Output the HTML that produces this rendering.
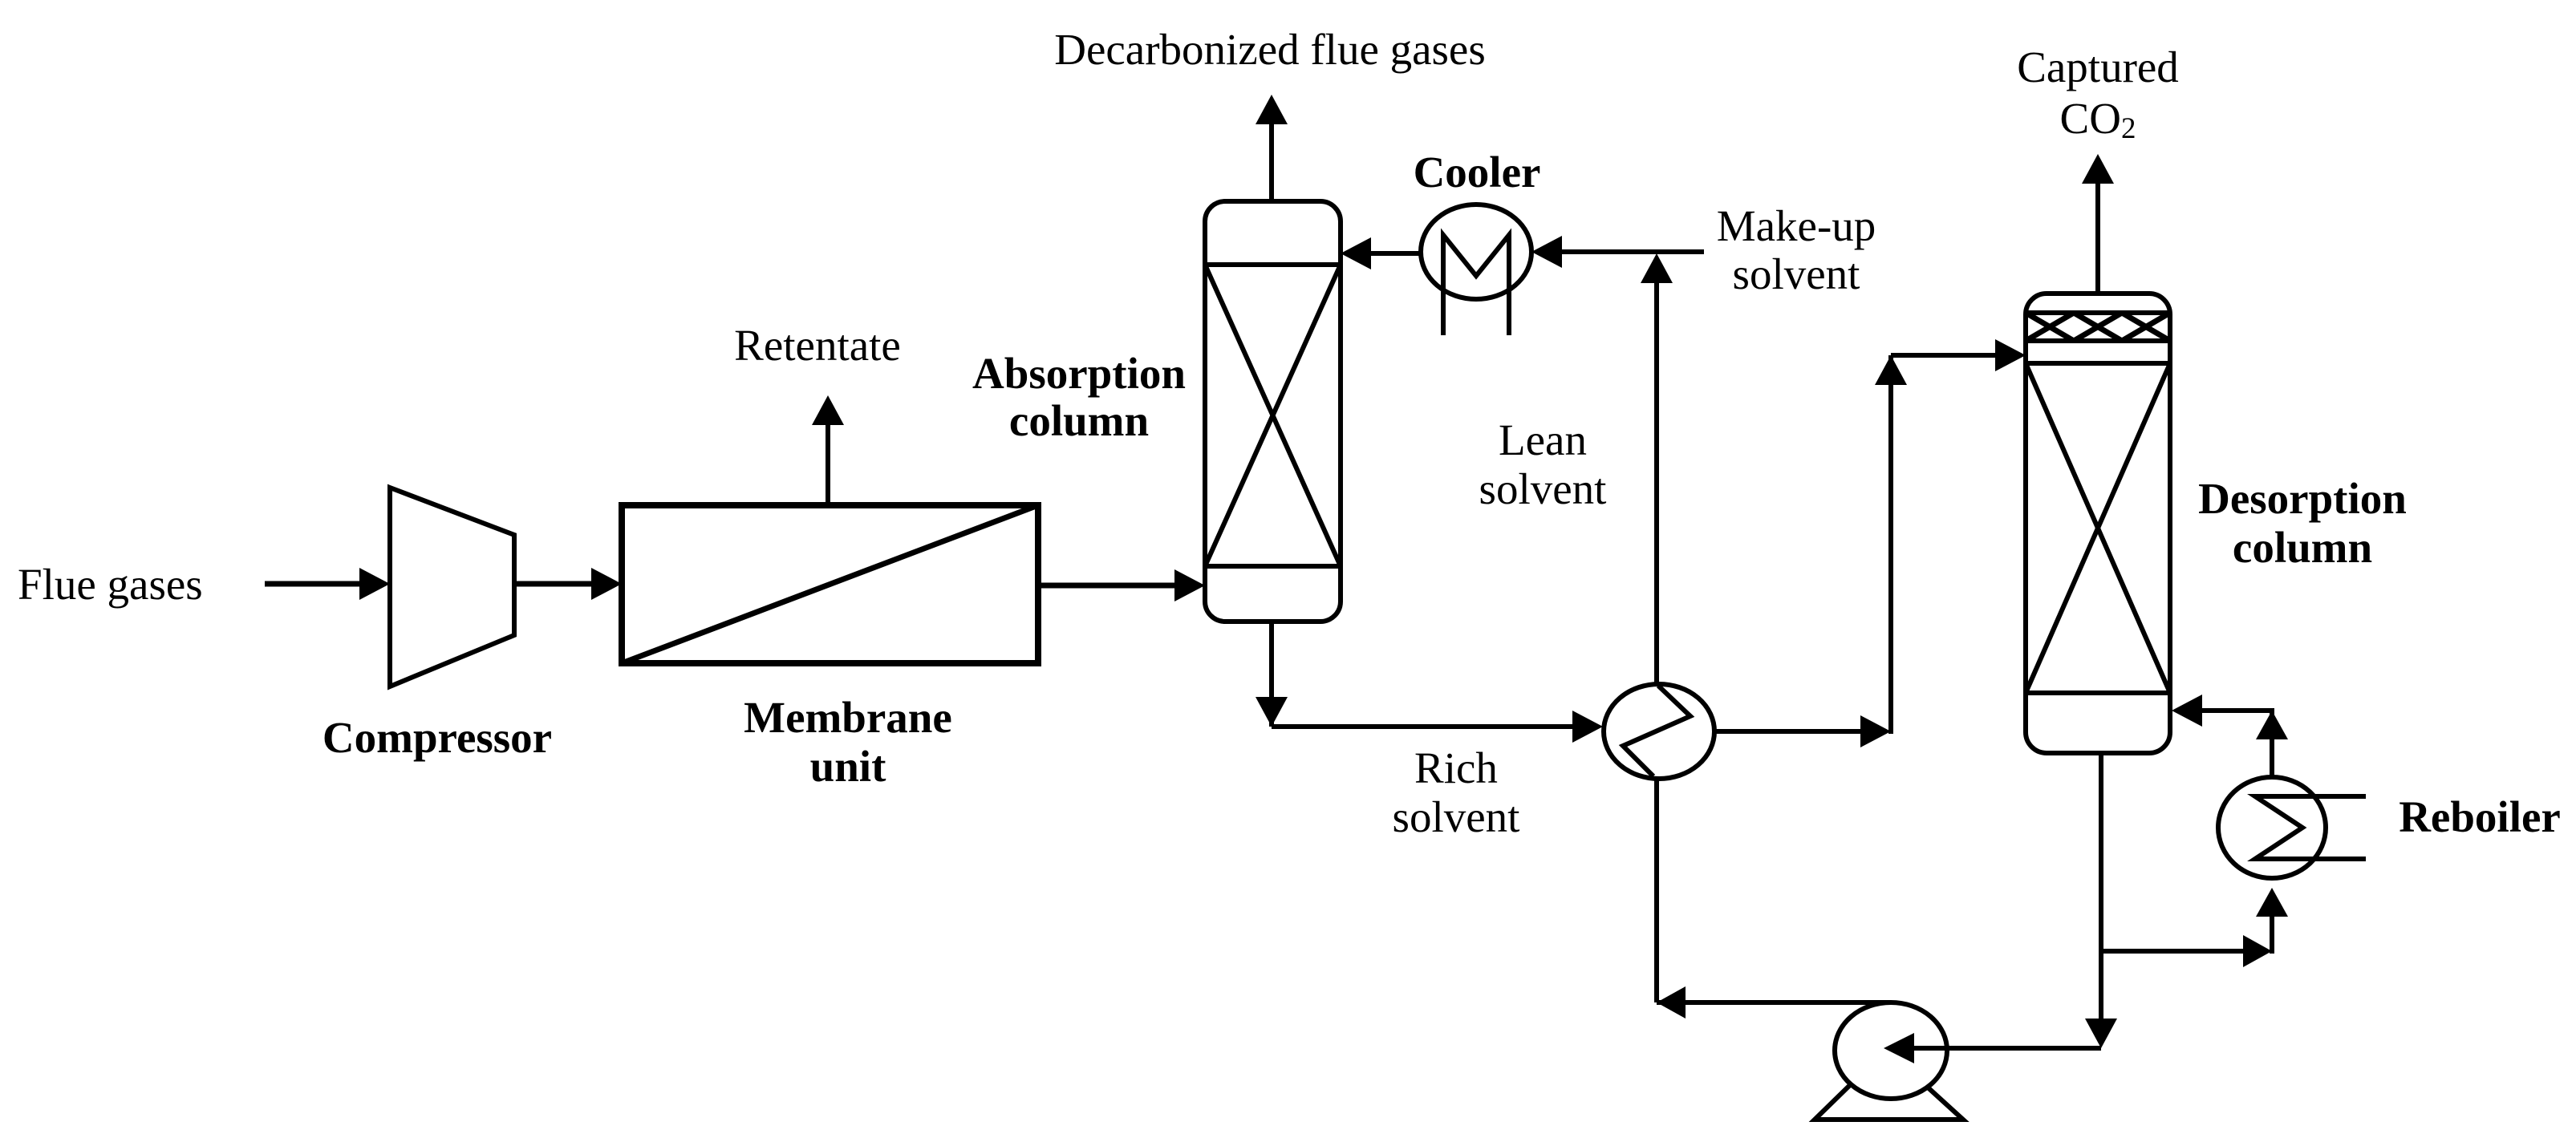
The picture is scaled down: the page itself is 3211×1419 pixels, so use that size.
<!DOCTYPE html>
<html><head><meta charset="utf-8"><style>
html,body{margin:0;padding:0;background:#fff;}
svg{display:block;}
text{font-family:"Liberation Serif",serif;font-size:55px;fill:#000;}
.b{font-weight:bold;}
</style></head><body>
<svg width="3211" height="1419" viewBox="0 0 3211 1419" xmlns="http://www.w3.org/2000/svg">
<g fill="none" stroke="#000" stroke-width="6" stroke-linejoin="miter">
<line x1="330" y1="728" x2="470" y2="728" stroke-width="7"/>
<polygon points="486,608 641,667 641,792 486,856"/>
<line x1="641" y1="728" x2="760" y2="728" stroke-width="7"/>
<rect x="775" y="630" width="519" height="197" stroke-width="8"/>
<line x1="775" y1="827" x2="1294" y2="630" stroke-width="7"/>
<line x1="1032" y1="630" x2="1032" y2="510"/>
<line x1="1294" y1="730" x2="1490" y2="730" stroke-width="7"/>
<rect x="1502" y="251" width="169" height="524" rx="25" ry="25"/>
<line x1="1502" y1="330" x2="1671" y2="330"/>
<line x1="1502" y1="706" x2="1671" y2="706"/>
<line x1="1502" y1="330" x2="1671" y2="706"/>
<line x1="1671" y1="330" x2="1502" y2="706"/>
<line x1="1585" y1="251" x2="1585" y2="135"/>
<line x1="1585" y1="775" x2="1585" y2="906"/>
<line x1="1585" y1="906" x2="1985" y2="906"/>
<ellipse cx="1840" cy="314" rx="69" ry="59"/>
<path d="M1799,418 L1799,293 L1840,344 L1881,293 L1881,418"/>
<line x1="1771" y1="316" x2="1690" y2="316"/>
<line x1="2124" y1="314" x2="1925" y2="314"/>
<line x1="2065" y1="852" x2="2065" y2="330"/>
<ellipse cx="2068" cy="912" rx="69" ry="59"/>
<path d="M2067,855 L2107,893 L2023,930 L2061,968"/>
<line x1="2137" y1="912" x2="2345" y2="912"/>
<line x1="2357" y1="915" x2="2357" y2="443"/>
<line x1="2357" y1="443" x2="2512" y2="443"/>
<line x1="2065" y1="970" x2="2065" y2="1250"/>
<line x1="2065" y1="1250" x2="2357" y2="1250"/>
<rect x="2525" y="366" width="180" height="573" rx="26" ry="26"/>
<line x1="2525" y1="390" x2="2705" y2="390"/>
<line x1="2525" y1="425" x2="2705" y2="425"/>
<line x1="2525" y1="453" x2="2705" y2="453"/>
<line x1="2525" y1="864" x2="2705" y2="864"/>
<path d="M2525,390 L2585,425 M2585,390 L2525,425 M2585,390 L2645,425 M2645,390 L2585,425 M2645,390 L2705,425 M2705,390 L2645,425" stroke-width="7"/>
<line x1="2525" y1="453" x2="2705" y2="864"/>
<line x1="2705" y1="453" x2="2525" y2="864"/>
<line x1="2615" y1="366" x2="2615" y2="205"/>
<line x1="2619" y1="939" x2="2619" y2="1295"/>
<line x1="2619" y1="1307" x2="2365" y2="1307"/>
<line x1="2619" y1="1186" x2="2820" y2="1186"/>
<line x1="2832" y1="1189" x2="2832" y2="1120"/>
<ellipse cx="2832" cy="1032" rx="67" ry="63"/>
<path d="M2949,993 L2811,993 L2870,1032 L2811,1071 L2949,1071"/>
<line x1="2832" y1="969" x2="2832" y2="886"/>
<line x1="2835" y1="886" x2="2720" y2="886"/>
<ellipse cx="2357" cy="1310" rx="70" ry="60"/>
<path d="M2306,1353 L2262,1396 L2447,1396 L2402,1355"/>
</g>
<g fill="#000">
<polygon points="486,728 448,708 448,748"/>
<polygon points="775,728 737,708 737,748"/>
<polygon points="1032,493 1012,530 1052,530"/>
<polygon points="1502,730 1464,710 1464,750"/>
<polygon points="1585,118 1565,155 1605,155"/>
<polygon points="1585,906 1565,869 1605,869"/>
<polygon points="1998,906 1960,886 1960,926"/>
<polygon points="1671,316 1709,296 1709,336"/>
<polygon points="1909,314 1947,294 1947,334"/>
<polygon points="2065,316 2045,353 2085,353"/>
<polygon points="2357,912 2319,892 2319,932"/>
<polygon points="2357,443 2337,480 2377,480"/>
<polygon points="2525,443 2487,423 2487,463"/>
<polygon points="2065,1250 2101,1230 2101,1270"/>
<polygon points="2348,1307 2386,1288 2386,1326"/>
<polygon points="2615,192 2595,229 2635,229"/>
<polygon points="2619,1307 2599,1270 2639,1270"/>
<polygon points="2832,1186 2796,1166 2796,1206"/>
<polygon points="2832,1107 2812,1143 2852,1143"/>
<polygon points="2832,886 2812,922 2852,922"/>
<polygon points="2707,886 2745,866 2745,906"/>
</g>
<text x="22" y="747">Flue gases</text>
<text x="1019" y="449" text-anchor="middle">Retentate</text>
<text class="b" x="1345" y="484" text-anchor="middle">Absorption</text>
<text class="b" x="1345" y="543" text-anchor="middle">column</text>
<text class="b" x="545" y="938" text-anchor="middle">Compressor</text>
<text class="b" x="1057" y="913" text-anchor="middle">Membrane</text>
<text class="b" x="1057" y="974" text-anchor="middle">unit</text>
<text x="1583" y="80" text-anchor="middle">Decarbonized flue gases</text>
<text class="b" x="1841" y="233" text-anchor="middle">Cooler</text>
<text x="2239" y="300" text-anchor="middle">Make-up</text>
<text x="2239" y="360" text-anchor="middle">solvent</text>
<text x="1923" y="567" text-anchor="middle">Lean</text>
<text x="1923" y="628" text-anchor="middle">solvent</text>
<text x="1815" y="976" text-anchor="middle">Rich</text>
<text x="1815" y="1037" text-anchor="middle">solvent</text>
<text x="2615" y="102" text-anchor="middle">Captured</text>
<text x="2615" y="166" text-anchor="middle">CO<tspan font-size="37" dy="6">2</tspan></text>
<text class="b" x="2870" y="640" text-anchor="middle">Desorption</text>
<text class="b" x="2870" y="701" text-anchor="middle">column</text>
<text class="b" x="3091" y="1037" text-anchor="middle">Reboiler</text>
</svg>
</body></html>
